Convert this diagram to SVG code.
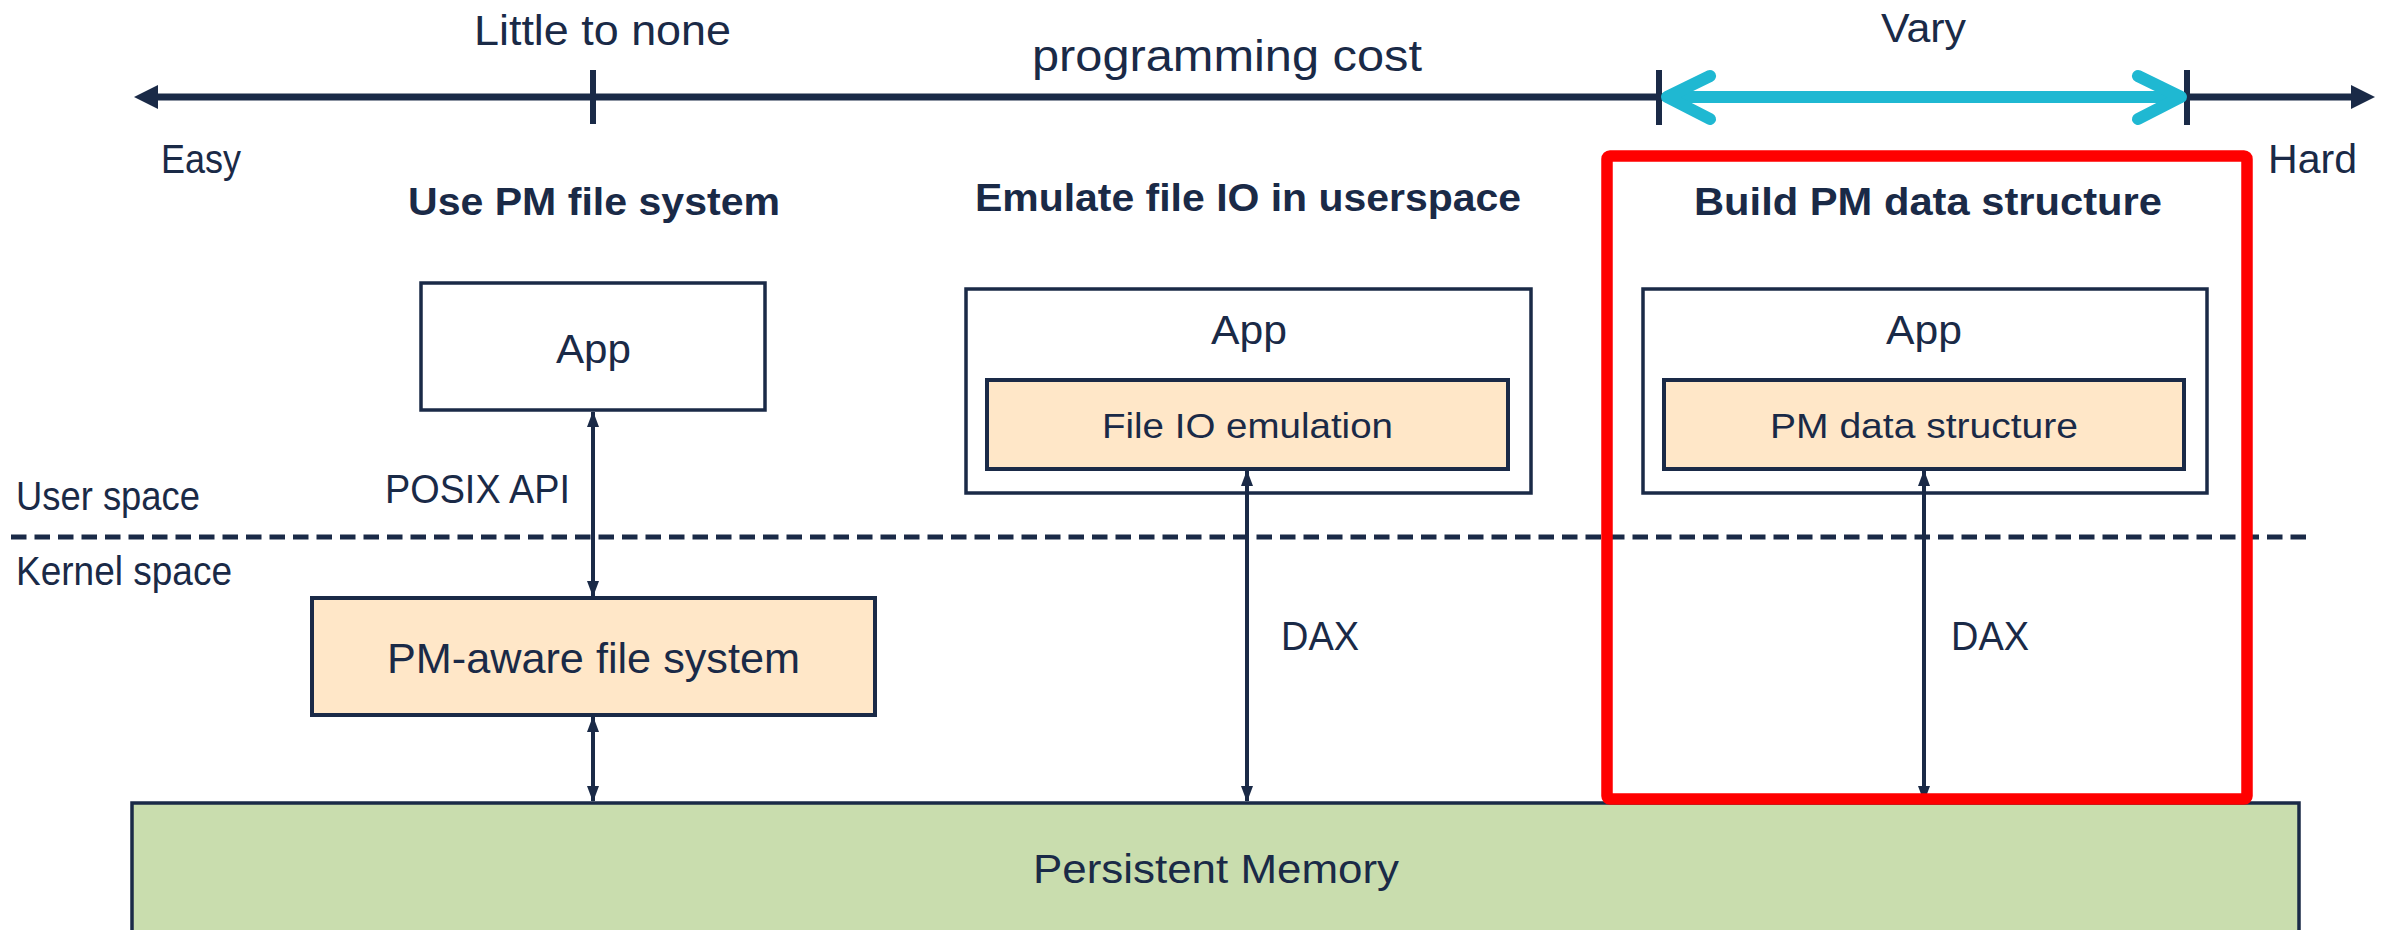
<svg xmlns="http://www.w3.org/2000/svg" width="2389" height="930" viewBox="0 0 2389 930">
  <defs>
    <style>
      .t { font-family: "Liberation Sans", Arial, sans-serif; fill: #1a2a47; }
      .b { font-weight: bold; }
      .box { fill: #ffffff; stroke: #1a2a47; stroke-width: 3.5; }
      .warm { fill: #ffe7c8; stroke: #1a2a47; stroke-width: 4; }
      .link { stroke: #1a2a47; stroke-width: 4; fill: none; }
      .tick { stroke: #1a2a47; stroke-width: 6; }
    </style>
    <marker id="head" viewBox="0 0 16 12" refX="15" refY="6" markerWidth="16" markerHeight="12" markerUnits="userSpaceOnUse" orient="auto-start-reverse">
      <path d="M0,0 L16,6 L0,12 Z" fill="#1a2a47"/>
    </marker>
  </defs>

  <rect width="2389" height="930" fill="#ffffff"/>

  <!-- cost axis -->
  <g id="axis">
    <line x1="150" y1="97" x2="2358" y2="97" stroke="#1a2a47" stroke-width="7"/>
    <polygon points="134,97 158,85 158,109" fill="#1a2a47"/>
    <polygon points="2375,97 2351,85 2351,109" fill="#1a2a47"/>
    <line class="tick" x1="593" y1="70" x2="593" y2="124"/>
    <line class="tick" x1="1659" y1="70" x2="1659" y2="125"/>
    <line class="tick" x1="2187" y1="70" x2="2187" y2="125"/>
    <g stroke="#1fb8d2" stroke-width="12" stroke-linecap="round" stroke-linejoin="round" fill="none">
      <line x1="1668" y1="97" x2="2180" y2="97"/>
      <polyline points="1710,76 1667,97 1710,119"/>
      <polyline points="2138,76 2181,97 2138,119"/>
    </g>
    <text class="t" x="474" y="45" font-size="42" textLength="257" lengthAdjust="spacingAndGlyphs">Little to none</text>
    <text class="t" x="1032" y="71" font-size="44" textLength="390" lengthAdjust="spacingAndGlyphs">programming cost</text>
    <text class="t" x="1881" y="42" font-size="40" textLength="85" lengthAdjust="spacingAndGlyphs">Vary</text>
    <text class="t" x="161" y="173" font-size="40" textLength="80" lengthAdjust="spacingAndGlyphs">Easy</text>
    <text class="t" x="2268" y="173" font-size="40" textLength="89" lengthAdjust="spacingAndGlyphs">Hard</text>
  </g>

  <!-- column headings -->
  <text class="t b" x="408" y="215" font-size="39" textLength="372" lengthAdjust="spacingAndGlyphs">Use PM file system</text>
  <text class="t b" x="975" y="211" font-size="39" textLength="546" lengthAdjust="spacingAndGlyphs">Emulate file IO in userspace</text>
  <text class="t b" x="1694" y="215" font-size="39" textLength="468" lengthAdjust="spacingAndGlyphs">Build PM data structure</text>

  <!-- user / kernel boundary -->
  <g id="boundary">
    <line x1="11" y1="537" x2="2308" y2="537" stroke="#1a2a47" stroke-width="5" stroke-dasharray="15.5 8"/>
    <text class="t" x="16" y="510" font-size="40" textLength="184" lengthAdjust="spacingAndGlyphs">User space</text>
    <text class="t" x="16" y="585" font-size="40" textLength="216" lengthAdjust="spacingAndGlyphs">Kernel space</text>
  </g>

  <!-- nodes -->
  <g id="app-fs">
    <rect class="box" x="421" y="283" width="344" height="127"/>
    <text class="t" x="556" y="363" font-size="40" textLength="75" lengthAdjust="spacingAndGlyphs">App</text>
  </g>

  <g id="pm-aware-fs">
    <rect class="warm" x="312" y="598" width="563" height="117"/>
    <text class="t" x="387" y="673" font-size="42" textLength="413" lengthAdjust="spacingAndGlyphs">PM-aware file system</text>
  </g>

  <g id="app-emu">
    <rect class="box" x="966" y="289" width="565" height="204"/>
    <text class="t" x="1211" y="344" font-size="40" textLength="76" lengthAdjust="spacingAndGlyphs">App</text>
  </g>

  <g id="file-io-emulation">
    <rect class="warm" x="987" y="380" width="521" height="89"/>
    <text class="t" x="1102" y="438" font-size="35" textLength="291" lengthAdjust="spacingAndGlyphs">File IO emulation</text>
  </g>

  <g id="app-ds">
    <rect class="box" x="1643" y="289" width="564" height="204"/>
    <text class="t" x="1886" y="344" font-size="40" textLength="76" lengthAdjust="spacingAndGlyphs">App</text>
  </g>

  <g id="pm-data-structure">
    <rect class="warm" x="1664" y="380" width="520" height="89"/>
    <text class="t" x="1770" y="438" font-size="35" textLength="308" lengthAdjust="spacingAndGlyphs">PM data structure</text>
  </g>

  <g id="persistent-memory">
    <rect x="132" y="803" width="2167" height="140" fill="#c9ddae" stroke="#1a2a47" stroke-width="3.5"/>
    <text class="t" x="1033" y="883" font-size="40" textLength="366" lengthAdjust="spacingAndGlyphs">Persistent Memory</text>
  </g>

  <!-- connectors -->
  <g id="connectors">
    <line class="link" x1="593" y1="412" x2="593" y2="596" marker-start="url(#head)" marker-end="url(#head)"/>
    <text class="t" x="385" y="503" font-size="40" textLength="185" lengthAdjust="spacingAndGlyphs">POSIX API</text>
    <line class="link" x1="593" y1="717" x2="593" y2="801" marker-start="url(#head)" marker-end="url(#head)"/>
    <line class="link" x1="1247" y1="471" x2="1247" y2="801" marker-start="url(#head)" marker-end="url(#head)"/>
    <text class="t" x="1281" y="650" font-size="40" textLength="78" lengthAdjust="spacingAndGlyphs">DAX</text>
    <line class="link" x1="1924" y1="471" x2="1924" y2="801" marker-start="url(#head)" marker-end="url(#head)"/>
    <text class="t" x="1951" y="650" font-size="40" textLength="78" lengthAdjust="spacingAndGlyphs">DAX</text>
  </g>

  <!-- highlight frame -->
  <rect id="highlight" x="1607" y="156" width="640" height="643" rx="3" fill="none" stroke="#ff0000" stroke-width="11.5"/>
</svg>
